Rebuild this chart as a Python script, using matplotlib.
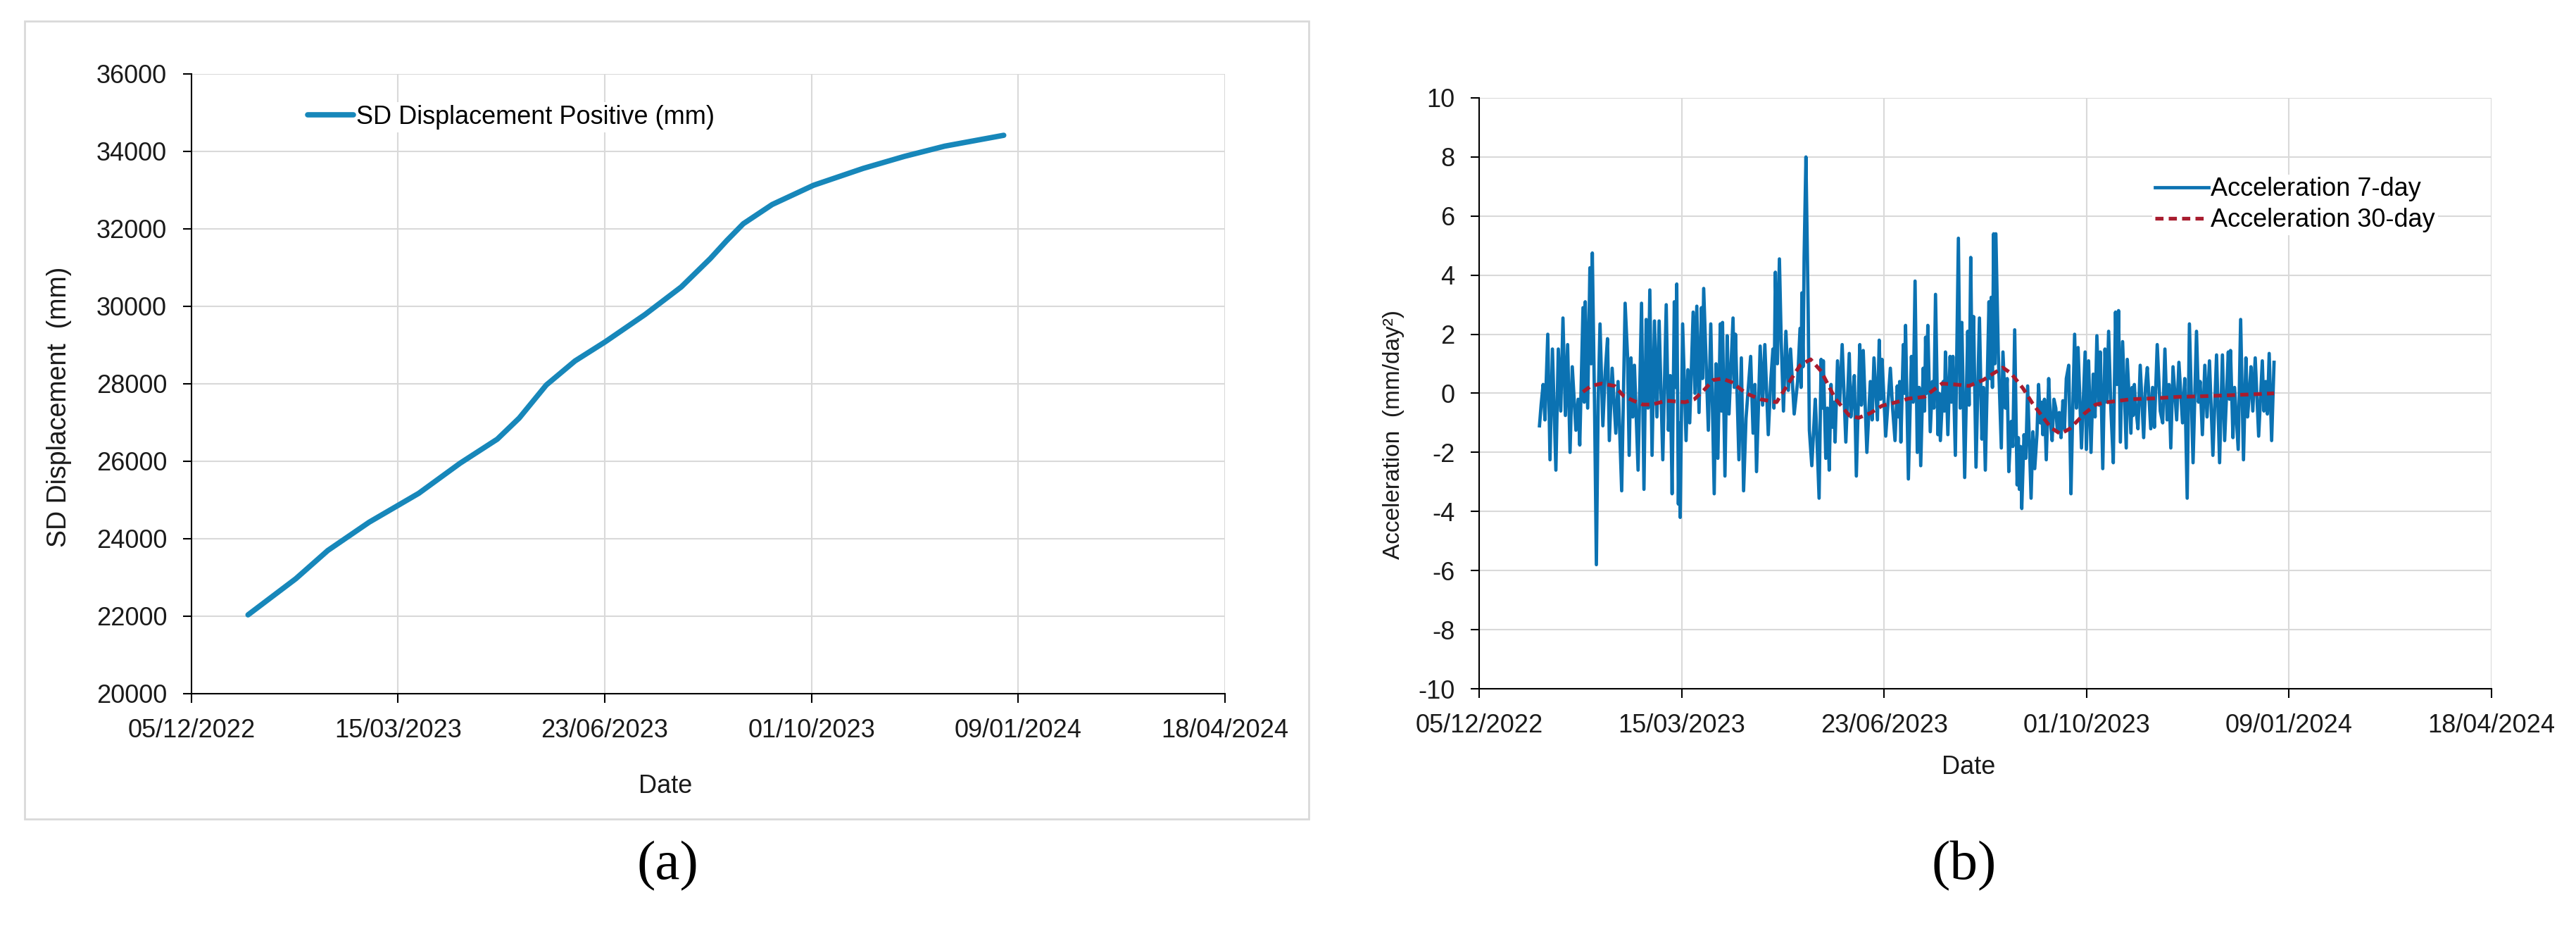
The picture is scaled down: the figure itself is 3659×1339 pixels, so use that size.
import numpy as np
import matplotlib
matplotlib.use("Agg")
import matplotlib.pyplot as plt
import matplotlib.dates as mdates
from matplotlib import font_manager
from matplotlib.patches import Rectangle

# days counted from 05/12/2022 (first tick of both x axes)
START = "2022-12-05"
tick_days = [0, 100, 200, 300, 400, 500]

# (a) SD displacement
disp_days = [27.4, 50.5, 66, 86, 101, 110, 130, 148, 158.6, 171.7, 185.6, 200.3,
             219.4, 237, 251, 259, 267, 281, 301, 325, 345, 364.5, 393]
disp_mm = [22035, 22967, 23697, 24427, 24893, 25173, 25950, 26571, 27115, 27969,
           28590, 29087, 29786, 30501, 31231, 31697, 32132, 32629, 33126, 33561,
           33872, 34136, 34416]

# (b) 7-day acceleration, peaks and troughs
acc7_days = [
    29.8, 30.6, 31.6, 32.5, 33.9, 35.0, 36.2, 37.9, 39.1, 40.3, 41.4, 42.6, 43.7, 44.9,
    46.0, 47.8, 48.9, 49.7, 50.4, 51.3, 51.9, 52.4, 53.6, 54.7, 55.3, 55.9, 57.0, 57.9,
    58.8, 59.7, 61.1, 62.3, 63.4, 64.3, 65.7, 67.5, 68.6, 70.4, 72.1, 73.3, 74.1, 75.0,
    75.9, 76.7, 78.5, 80.2, 81.4, 82.5, 83.4, 84.3, 85.4, 86.6, 87.8, 88.9, 90.7, 92.4,
    93.5, 94.4, 95.3, 96.4, 97.0, 97.6, 98.4, 98.9, 99.3, 100.5, 102.2, 103.1, 104.0,
    105.7, 106.6, 107.5, 108.6, 109.8, 110.3, 110.9, 113.2, 114.4, 116.1, 117.0, 117.9,
    119.1, 119.7, 120.2, 121.4, 122.5, 123.4, 124.3, 125.4, 126.0, 126.6, 128.3, 129.5,
    130.6, 131.8, 134.1, 135.3, 136.2, 137.0, 138.8, 140.0, 141.1, 142.8, 144.0, 145.1,
    145.6, 146.3, 147.3, 148.3, 149.2, 150.3, 151.5, 152.7, 153.8, 155.6, 157.3, 158.5,
    159.0, 159.4, 160.0, 160.5, 161.4, 162.5, 163.1, 164.3, 165.4, 166.0, 166.6, 167.9,
    168.9, 169.5, 170.0, 171.2, 172.0, 172.9, 173.8, 174.7, 175.2, 175.8, 177.0, 178.1,
    179.3, 181.1, 182.8, 183.6, 184.5, 185.3, 186.3, 188.0, 188.8, 189.7, 191.5, 193.2,
    194.1, 195.0, 196.7, 197.6, 198.3, 199.0, 200.8, 203.1, 204.2, 205.4, 206.5, 207.1,
    207.7, 208.3, 209.5, 210.0, 210.6, 212.0, 213.5, 214.4, 215.3, 216.4, 217.3, 218.1,
    219.3, 220.0, 220.5, 221.0, 221.6, 222.8, 223.9, 224.6, 225.4, 226.6, 227.2, 227.8,
    229.2, 229.8, 230.3, 231.5, 232.6, 233.3, 234.0, 235.2, 236.7, 237.6, 238.4, 239.8,
    241.3, 242.0, 242.8, 243.5, 244.2, 245.4, 247.1, 248.3, 249.1, 250.0, 251.8, 252.4,
    252.9, 253.5, 254.1, 254.7, 255.2, 256.4, 257.9, 258.7, 259.9, 260.8, 261.6, 262.8,
    263.6, 264.5, 265.7, 266.3, 266.8, 267.4, 268.0, 269.1, 270.0, 270.9, 271.7, 272.6,
    273.5, 274.4, 275.5, 276.3, 277.2, 277.8, 278.4, 279.2, 280.1, 281.3, 282.2, 283.0,
    283.9, 284.8, 285.6, 286.5, 287.4, 288.3, 289.1, 290.0, 291.2, 292.3, 293.2, 294.1,
    295.0, 295.8, 297.5, 299.3, 299.9, 301.0, 302.2, 303.3, 304.2, 305.1, 306.2, 306.8,
    308.0, 309.1, 310.0, 310.9, 312.0, 313.2, 314.3, 315.0, 315.8, 316.7, 317.8, 319.6,
    320.1, 321.9, 322.5, 323.0, 323.6, 324.2, 325.4, 326.5, 328.2, 329.1, 330.0, 331.7,
    332.6, 333.5, 334.9, 336.4, 337.6, 338.7, 339.8, 340.7, 341.6, 342.7, 344.5, 345.6,
    347.4, 348.5, 349.7, 350.8, 352.6, 354.3, 355.3, 356.1, 357.2, 358.4, 359.5, 360.7,
    362.4, 364.2, 365.7, 367.1, 368.2, 370.0, 370.6, 371.1, 372.3, 373.1, 374.0, 374.9,
    376.1, 377.5, 378.7, 379.5, 380.4, 381.2, 382.1, 383.3, 385.0, 386.8, 387.6, 388.5,
    389.3, 390.2, 391.4, 392.6]
acc7 = [
    -1.1, -0.4, 0.3, -0.9, 2.0, -2.25, 1.5, -2.6, 1.5, -0.6, 2.55, -0.75, 1.65, -2.0,
    0.9, -1.25, -0.2, -1.75, 0.3, 2.9, -0.3, 3.1, -0.5, 4.25, 1.0, 4.75, -0.4, -5.8,
    -0.25, 2.35, -1.1, 0.75, 1.85, -1.6, 0.85, -1.35, 0.4, -3.3, 3.05, 1.25, -2.1, 1.2,
    -0.8, 0.95, -2.6, 3.05, -3.25, 2.5, -0.5, 3.5, -2.1, 2.45, -0.8, 2.45, -2.25, 3.0,
    -1.25, 0.6, -3.4, 3.1, 0.2, 3.7, -3.75, -1.0, -4.2, 2.35, -1.6, 0.8, -1.0,
    2.75, 0.0, 2.95, -0.65, 2.9, 0.5, 3.55, -1.25, 2.35, -3.4, 1.0, -2.2,
    2.35, -0.6, 2.4, -2.8, 1.95, -0.7, 0.75, 2.55, 0.2, 2.0, -2.25, 1.2,
    -3.3, -0.85, 1.25, -1.35, 0.3, -2.65, 1.6, -0.4, 1.65, -1.4, 0.4, 1.5,
    -0.5, 4.1, 1.0, 4.55, 1.75, -0.6, 2.1, 0.1, 1.5, -0.7, 0.4, 2.2,
    0.2, 3.4, 0.9, 4.6, 8.0, 2.85, -1.25, -2.45, -1.0, -0.2, -1.1, -3.55,
    1.15, -0.5, 1.1, -2.2, -0.5, -2.6, 0.3, -1.15, -0.3, -1.65, 1.1, -0.3,
    1.65, -1.65, 1.35, -0.8, -0.1, 0.6, -2.8, 1.65, -0.4, 1.45, -2.0, 0.4,
    -0.9, 1.2, -0.9, 1.8, -0.2, 1.15, -1.45, 0.85, -0.5, -1.6, 0.25, -0.8,
    0.4, -1.65, 1.65, 0.0, 2.3, -2.9, 1.25, -0.3, 3.8, -2.0, 0.2, -2.45,
    0.85, -0.6, 1.9, 0.0, 2.3, -1.3, 0.4, -0.5, 3.35, -1.4, 0.0, -1.6,
    0.4, -0.6, 1.4, -1.4, 1.25, -0.3, 1.25, -2.1, 5.25, -0.5, 2.4, -2.85,
    2.1, -0.4, 4.6, 0.3, 2.6, -2.5, 2.55, -1.55, 0.2, -2.6, 3.1, 0.5,
    3.25, 0.2, 5.4, 1.0, 5.4, 1.35, -1.85, 1.4, -0.5, 0.5, -2.65, -0.95,
    -1.8, 2.15, -3.1, -1.5, -3.25, -1.8, -3.9, -1.4, -2.2, 0.25, -1.5, -3.55,
    -1.3, -2.55, -1.4, 0.3, -1.0, -0.3, -1.4, -0.2, -2.25, 0.5, -1.0, -1.6,
    -0.2, -0.5, -1.3, -0.65, -1.5, -0.25, -1.2, 0.5, 0.95, -3.4, -0.5, 2.0,
    -0.5, 1.55, -1.85, 1.4, -1.9, 1.1, -2.0, 0.65, -0.8, 1.95, -0.4, 1.4,
    -2.55, 1.5, -0.3, 2.1, -0.5, -2.35, 2.75, 0.3, 2.8, -1.65, 1.75, -1.85,
    1.15, -1.35, 0.2, -0.75, 0.3, -0.4, -1.2, 0.95, -1.5, 0.2, 0.87, -1.2,
    0.2, -1.15, 1.65, -0.6, -1.0, 1.5, -0.9, 0.3, -1.85, 0.9, -0.9, 1.05,
    -1.0, 0.5, -3.55, 2.35, -2.35, 2.1, -0.3, 0.4, -1.4, 0.95, -0.8, 1.1,
    -2.1, 1.3, -2.35, 1.3, -1.6, 1.4, -0.2, 1.45, -1.5, 0.2, -0.85, -1.9,
    2.5, -2.25, 1.2, -0.8, 0.0, 0.9, -0.6, 1.2, -1.45, 1.1, -0.6, 0.4,
    -0.7, 1.35, -1.6, 1.05]

# (b) 30-day acceleration
acc30_days = [51.3, 55.3, 60.5, 66.9, 71.5, 76.2, 80.8, 85.4, 92.4, 101.7, 106.3, 110.9,
              115.6, 120.2, 124.9, 131.8, 138.8, 146.9, 152.7, 158.5, 163.7, 168.9, 175.8,
              182.8, 187.4, 193.2, 199.0, 206.0, 212.0, 219.9, 228.6, 235.0, 241.9, 248.9,
              254.6, 258.7, 262.8, 268.6, 273.2, 277.8, 282.5, 287.1, 291.7, 296.4, 298.7,
              304.5, 310.3, 321.9, 333.5, 345.0, 356.6, 368.2, 379.8, 392.6]
acc30 = [0.05, 0.25, 0.33, 0.25, -0.1, -0.25, -0.38, -0.38, -0.25, -0.3, -0.2, 0.1,
         0.45, 0.5, 0.37, 0.0, -0.2, -0.3, 0.33, 0.95, 1.15, 0.75, -0.17,
         -0.75, -0.83, -0.67, -0.42, -0.3, -0.18, -0.12, 0.33, 0.3, 0.25, 0.45,
         0.7, 0.87, 0.67, 0.17, -0.33, -0.75, -1.17, -1.37, -1.2, -0.87, -0.7,
         -0.38, -0.3, -0.2, -0.17, -0.12, -0.1, -0.07, -0.04, 0.0]

names = {f.name for f in font_manager.fontManager.ttflist}
if "Liberation Sans Narrow" in names:
    NARROW, FS = "Liberation Sans Narrow", 30
else:
    NARROW, FS = "Liberation Sans", 26
WIDE = "Liberation Sans"
plt.rcParams["font.family"] = [NARROW, "DejaVu Sans"]
plt.rcParams["axes.unicode_minus"] = False

base = mdates.datestr2num(START)
ticks = base + np.array(tick_days)

fig = plt.figure(figsize=(36.59, 13.39), dpi=100)

# grey frame round panel (a)
fig.patches.append(Rectangle((0.0096, 0.1314), 0.4985, 0.8462, transform=fig.transFigure,
                             fill=False, edgecolor="#D9D9D9", lw=2))

ax1 = fig.add_axes([0.0743, 0.2644, 0.4012, 0.6572])
ax2 = fig.add_axes([0.5742, 0.2696, 0.3930, 0.6266])

for ax in (ax1, ax2):
    ax.set_xlim(ticks[0], ticks[-1])
    ax.set_xticks(ticks)
    ax.xaxis.set_major_formatter(mdates.DateFormatter("%d/%m/%Y"))
    ax.grid(True, color="#D9D9D9", lw=1.5)
    ax.set_axisbelow(True)
    for s in ("top", "right"):
        ax.spines[s].set_visible(False)
    for s in ("left", "bottom"):
        ax.spines[s].set_color("black")
        ax.spines[s].set_linewidth(1.5)
    ax.tick_params(direction="out", length=9, width=1.5, labelsize=FS,
                   labelcolor="#1a1a1a", pad=16)

# (a)
ax1.plot(base + np.array(disp_days), disp_mm, color="#1787BA", lw=5.5,
         solid_capstyle="round", solid_joinstyle="round",
         label="SD Displacement Positive (mm)")
ax1.set_ylim(20000, 36000)
ax1.set_yticks(np.arange(20000, 36001, 2000))
leg = ax1.legend(loc="center left", bbox_to_anchor=(0.11, 0.93), fontsize=FS,
                 frameon=True, borderpad=0.1, borderaxespad=0, handlelength=1.8,
                 handletextpad=0.1)
leg.get_frame().set_facecolor("white")
leg.get_frame().set_edgecolor("none")
leg.get_frame().set_alpha(1)

# (b)
ax2.plot(base + np.array(acc7_days), acc7, color="#0B72B2", lw=3.4, label="Acceleration 7-day")
ax2.plot(base + np.array(acc30_days), acc30, color="#A81C2E", lw=3.8,
         linestyle=(0, (2.2, 1.4)), label="Acceleration 30-day")
ax2.set_ylim(-10, 10)
ax2.set_yticks(np.arange(-10, 11, 2))
leg2 = ax2.legend(loc="center left", bbox_to_anchor=(0.665, 0.819), fontsize=FS,
                  frameon=True, borderpad=0.1, borderaxespad=0, handlelength=2.1,
                  handletextpad=0.1, labelspacing=0.25)
leg2.get_frame().set_facecolor("white")
leg2.get_frame().set_edgecolor("none")
leg2.get_frame().set_alpha(1)

# axis titles placed like the original
fig.text(0.0230, 0.5683, "SD Displacement  (mm)", rotation=90, ha="center", va="center",
         fontsize=27, family=WIDE, color="#1a1a1a")
fig.text(0.2583, 0.1658, "Date", ha="center", va="center", fontsize=FS, color="#1a1a1a")
fig.text(0.5409, 0.5392, "Acceleration  (mm/day²)", rotation=90, ha="center", va="center",
         fontsize=24, family=WIDE, color="#1a1a1a")
fig.text(0.7641, 0.1867, "Date", ha="center", va="center", fontsize=FS, color="#1a1a1a")

fig.text(0.2591, 0.0814, "(a)", ha="center", va="center", fontsize=57, family="Liberation Serif")
fig.text(0.7623, 0.0814, "(b)", ha="center", va="center", fontsize=57, family="Liberation Serif")

fig.savefig("out.png", dpi=100, facecolor="white")
